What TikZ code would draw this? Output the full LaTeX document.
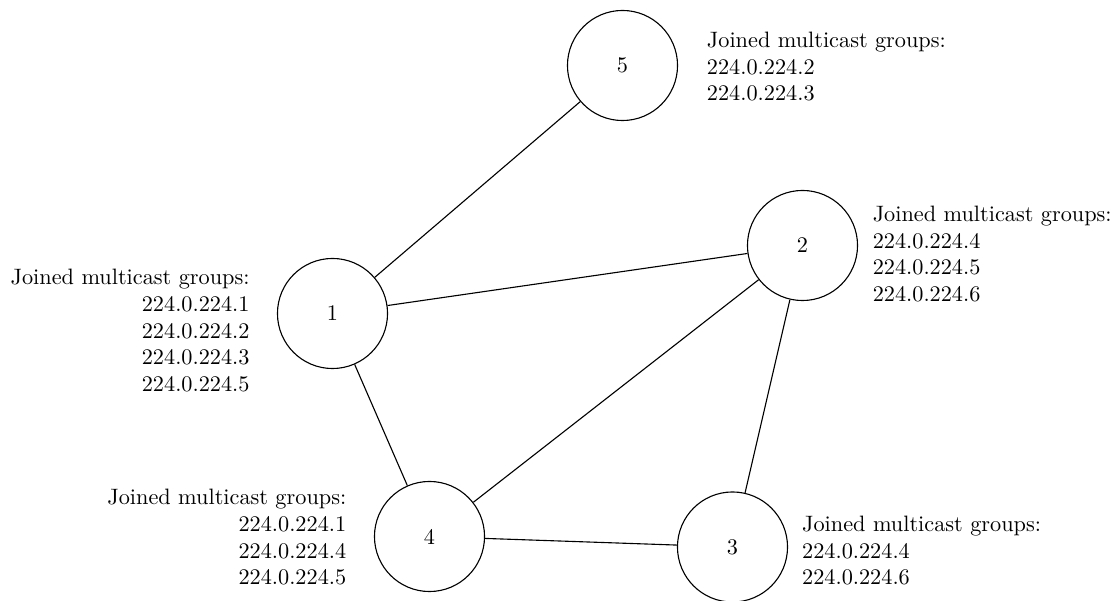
\documentclass[tikz,border=0pt]{standalone}
\begin{document}
\begin{tikzpicture}[x=0.44883pt, y=-0.44883pt,
  host/.style={circle, draw, line width=0.5pt, minimum size=49.4pt, inner sep=0pt},
  link/.style={line width=0.5pt},
  groups/.style={inner sep=0pt, font=\normalsize}]
\useasboundingbox (0,0) rectangle (1114,601);

% hosts
\node[host] (n5) at (622.5,65.5) {5};
\node[host] (n1) at (332.5,313.5) {1};
\node[host] (n4) at (429.5,536.5) {4};
\node[host] (n3) at (732.5,547) {3};
\node[host] (n2) at (802.5,245.5) {2};

% links
\draw[link] (n1) -- (n5);
\draw[link] (n1) -- (n2);
\draw[link] (n1) -- (n4);
\draw[link] (n4) -- (n2);
\draw[link] (n4) -- (n3);
\draw[link] (n2) -- (n3);

% group memberships (anchored at the baseline of the last line)
\node[groups, anchor=base west, align=left] (g5) at (706.5,101)
  {Joined multicast groups:\\224.0.224.2\\224.0.224.3};
\node[groups, anchor=base west, align=left] (g2) at (872.3,301.5)
  {Joined multicast groups:\\224.0.224.4\\224.0.224.5\\224.0.224.6};
\node[groups, anchor=base west, align=left] (g3) at (801.7,585)
  {Joined multicast groups:\\224.0.224.4\\224.0.224.6};
\node[groups, anchor=base east, align=right] (g1) at (250,391.7)
  {Joined multicast groups:\\224.0.224.1\\224.0.224.2\\224.0.224.3\\224.0.224.5};
\node[groups, anchor=base east, align=right] (g4) at (346.7,585)
  {Joined multicast groups:\\224.0.224.1\\224.0.224.4\\224.0.224.5};
\end{tikzpicture}
\end{document}
